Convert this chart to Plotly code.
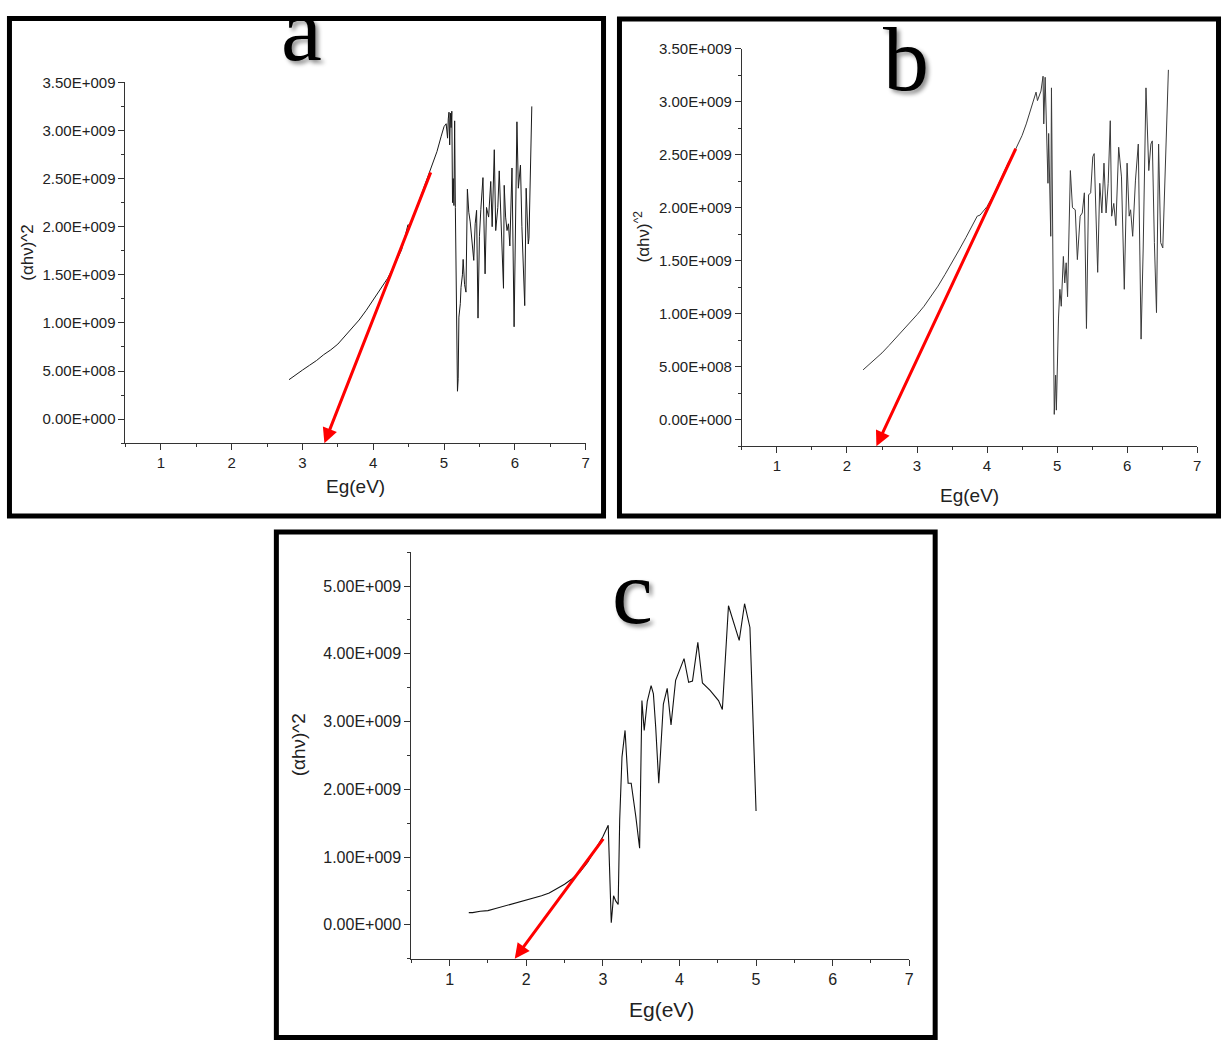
import plotly.graph_objects as go

W, H = 1227, 1040

# ---------------- data (y in units of 1e9) ----------------
# Panel a
a_x = [2.81, 2.90, 3.00, 3.10, 3.20, 3.30, 3.40, 3.50, 3.60, 3.70, 3.80, 3.90, 4.00, 4.10,
       4.20, 4.30, 4.40, 4.46, 4.49, 4.52, 4.60, 4.70, 4.80, 4.90, 4.96, 5.00, 5.03, 5.05,
       5.06, 5.07, 5.08, 5.09, 5.10, 5.11, 5.12, 5.13, 5.14, 5.15, 5.16, 5.17, 5.18, 5.19,
       5.20, 5.21, 5.23, 5.24, 5.26, 5.27, 5.29, 5.31, 5.33, 5.35, 5.37, 5.39, 5.42, 5.44,
       5.46, 5.48, 5.50, 5.52, 5.55, 5.58, 5.60, 5.63, 5.66, 5.68, 5.71, 5.73, 5.76, 5.78,
       5.81, 5.84, 5.85, 5.87, 5.89, 5.91, 5.93, 5.96, 5.99, 6.01, 6.03, 6.05, 6.08, 6.10,
       6.12, 6.14, 6.16, 6.19, 6.20, 6.22, 6.24]
a_y = [0.41, 0.46, 0.51, 0.56, 0.61, 0.67, 0.72, 0.78, 0.86, 0.94, 1.03, 1.13, 1.24, 1.35,
       1.46, 1.60, 1.76, 1.93, 2.02, 2.01, 2.17, 2.37, 2.58, 2.78, 2.94, 3.04, 3.07, 2.92,
       3.12, 3.19, 2.85, 3.18, 3.03, 3.20, 2.25, 2.50, 2.22, 3.10, 2.20, 1.60, 0.68, 0.29,
       0.42, 1.06, 1.20, 1.37, 1.50, 1.66, 1.40, 1.32, 2.39, 2.15, 2.05, 1.89, 1.65, 2.03,
       2.17, 1.05, 1.90, 2.18, 2.51, 1.51, 2.20, 2.10, 2.47, 2.00, 2.80, 1.96, 2.20, 2.58,
       2.05, 1.36, 2.43, 2.10, 1.96, 2.03, 1.80, 2.61, 0.96, 2.20, 3.09, 2.40, 2.64, 2.00,
       1.65, 1.18, 2.40, 1.82, 1.88, 2.60, 3.25]

# Panel b
b_x = [2.23, 2.30, 2.40, 2.50, 2.60, 2.70, 2.80, 2.90, 3.00, 3.10, 3.20, 3.30, 3.40, 3.50,
       3.60, 3.70, 3.80, 3.86, 3.90, 4.00, 4.10, 4.20, 4.30, 4.40, 4.50, 4.56, 4.63, 4.70,
       4.72, 4.77, 4.80, 4.81, 4.83, 4.85, 4.87, 4.88, 4.91, 4.92, 4.95, 4.96, 4.98, 4.99,
       5.02, 5.04, 5.06, 5.09, 5.11, 5.13, 5.15, 5.19, 5.22, 5.26, 5.29, 5.33, 5.36, 5.39,
       5.42, 5.45, 5.48, 5.51, 5.53, 5.58, 5.61, 5.64, 5.67, 5.70, 5.73, 5.76, 5.78, 5.81,
       5.84, 5.88, 5.92, 5.96, 6.00, 6.03, 6.05, 6.08, 6.12, 6.16, 6.20, 6.23, 6.27, 6.31,
       6.34, 6.36, 6.39, 6.42, 6.45, 6.48, 6.51, 6.54, 6.59]
b_y = [0.47, 0.51, 0.57, 0.63, 0.70, 0.77, 0.84, 0.91, 0.99, 1.07, 1.16, 1.26, 1.37, 1.48,
       1.60, 1.72, 1.84, 1.92, 1.93, 2.01, 2.13, 2.27, 2.42, 2.54, 2.68, 2.79, 2.95, 3.09,
       3.01, 3.10, 3.24, 2.79, 3.23, 2.64, 2.23, 2.70, 1.73, 3.13, 1.23, 0.05, 0.42, 0.09,
       0.95, 1.23, 1.07, 1.54, 1.29, 1.48, 1.16, 2.35, 2.00, 1.98, 1.51, 1.92, 1.95, 2.14,
       0.86, 2.12, 2.14, 2.48, 2.51, 1.39, 2.23, 1.95, 2.42, 1.95, 2.23, 2.82, 1.92, 2.04,
       1.83, 2.57, 2.29, 1.23, 2.42, 1.92, 1.98, 1.73, 2.26, 2.60, 0.76, 1.61, 3.13, 2.35,
       2.60, 2.63, 1.67, 1.01, 2.60, 1.67, 1.62, 2.23, 3.30]

# Panel c
c_x = [1.25, 1.30, 1.40, 1.50, 1.60, 1.70, 1.80, 1.90, 2.00, 2.10, 2.20, 2.30, 2.40, 2.50,
       2.60, 2.70, 2.80, 2.90, 3.00, 3.07, 3.11, 3.14, 3.17, 3.20, 3.22, 3.25, 3.29, 3.33,
       3.37, 3.43, 3.48, 3.51, 3.54, 3.58, 3.63, 3.66, 3.69, 3.73, 3.79, 3.84, 3.89, 3.95,
       4.06, 4.12, 4.17, 4.24, 4.30, 4.40, 4.51, 4.56, 4.64, 4.78, 4.85, 4.92, 4.95, 4.98,
       5.00]
c_y = [0.18, 0.18, 0.20, 0.21, 0.24, 0.27, 0.30, 0.34, 0.37, 0.40, 0.43, 0.47, 0.53, 0.60,
       0.68, 0.78, 0.92, 1.10, 1.30, 1.47, 0.03, 0.43, 0.35, 0.30, 1.55, 2.48, 2.87, 2.09,
       2.09, 1.60, 1.13, 3.31, 2.87, 3.30, 3.53, 3.41, 2.92, 2.09, 3.26, 3.49, 2.95, 3.61,
       3.93, 3.58, 3.60, 4.17, 3.57, 3.46, 3.31, 3.18, 4.71, 4.20, 4.74, 4.39, 3.40, 2.27,
       1.68]

# Red arrows: (tail x, tail y, head x, head y)
a_arrow = [4.82, 2.58, 3.31, -0.25]
b_arrow = [4.42, 2.57, 2.42, -0.25]
c_arrow = [3.02, 1.29, 1.85, -0.50]

x_tickvals = [1, 2, 3, 4, 5, 6, 7]
x_ticktext = ["1", "2", "3", "4", "5", "6", "7"]
ab_tickvals = [0, 0.5, 1.0, 1.5, 2.0, 2.5, 3.0, 3.5]
ab_ticktext = ["0.00E+000", "5.00E+008", "1.00E+009", "1.50E+009", "2.00E+009",
               "2.50E+009", "3.00E+009", "3.50E+009"]
c_tickvals = [0, 1, 2, 3, 4, 5]
c_ticktext = ["0.00E+000", "1.00E+009", "2.00E+009", "3.00E+009", "4.00E+009", "5.00E+009"]

# ---------------- layout helpers ----------------
def px(v):
    return v / W

def py(v):
    return 1 - v / H

FONT = "Liberation Sans, Arial, sans-serif"
SERIF = "Liberation Serif, Times New Roman, serif"
AX = "#333333"

fig = go.Figure()
fig.add_trace(go.Scatter(x=a_x, y=a_y, mode="lines", line=dict(color="#1a1a1a", width=1),
                         xaxis="x", yaxis="y", showlegend=False))
fig.add_trace(go.Scatter(x=b_x, y=b_y, mode="lines", line=dict(color="#3a3a3a", width=1),
                         xaxis="x2", yaxis="y2", showlegend=False))
fig.add_trace(go.Scatter(x=c_x, y=c_y, mode="lines", line=dict(color="#111111", width=1.1),
                         xaxis="x3", yaxis="y3", showlegend=False))


def xaxis(dom, anchor, fs):
    return dict(domain=dom, anchor=anchor, range=[0.5, 7], showline=True, linecolor=AX,
                linewidth=1, ticks="outside", ticklen=6, tickcolor=AX, tickwidth=1,
                tickvals=x_tickvals, ticktext=x_ticktext, showgrid=False, zeroline=False,
                tickfont=dict(family=FONT, size=fs, color="#222"),
                minor=dict(ticks="outside", ticklen=3, tickcolor=AX,
                           tickvals=[0.5, 1.5, 2.5, 3.5, 4.5, 5.5, 6.5]))


def yaxis(dom, anchor, rng, tv, tt, minor_vals, fs):
    return dict(domain=dom, anchor=anchor, range=rng, showline=True, linecolor=AX,
                linewidth=1, ticks="outside", ticklen=6, tickcolor=AX, tickwidth=1,
                tickvals=tv, ticktext=tt, showgrid=False, zeroline=False,
                tickfont=dict(family=FONT, size=fs, color="#222"),
                minor=dict(ticks="outside", ticklen=3, tickcolor=AX, tickvals=minor_vals))


ab_minor = [-0.25, 0.25, 0.75, 1.25, 1.75, 2.25, 2.75, 3.25]
c_minor = [-0.5, 0.5, 1.5, 2.5, 3.5, 4.5, 5.5]

fig.update_layout(
    width=W, height=H, autosize=False,
    margin=dict(l=0, r=0, t=0, b=0),
    paper_bgcolor="white", plot_bgcolor="white",
    xaxis=xaxis([px(126), px(588)], "y", 15),
    yaxis=yaxis([py(438), py(74)], "x", [-0.25, 3.5], ab_tickvals, ab_ticktext, ab_minor, 15),
    xaxis2=xaxis([px(745), px(1202)], "y2", 15),
    yaxis2=yaxis([py(441), py(40)], "x2", [-0.25, 3.5], ab_tickvals, ab_ticktext, ab_minor, 15),
    xaxis3=xaxis([px(413), px(913)], "y3", 16),
    yaxis3=yaxis([py(958), py(548)], "x3", [-0.5, 5.5], c_tickvals, c_ticktext, c_minor, 16),
)

# frames
for (x0, y0, x1, y1) in [(9.5, 9.7, 606, 511.5), (622, 10, 1223.5, 511.5), (277.5, 527.5, 939, 1037.5)]:
    fig.add_shape(type="rect", xref="paper", yref="paper", x0=px(x0), x1=px(x1),
                  y0=py(y1), y1=py(y0), line=dict(color="black", width=5), layer="above")

ann = []
# panel letters
for (t, cx, cy) in [("a", 303, 20), ("b", 910, 50), ("c", 635, 588)]:
    ann.append(dict(text=t, x=px(cx), y=py(cy), xref="paper", yref="paper", showarrow=False,
                    xanchor="center", yanchor="middle",
                    font=dict(family=SERIF, size=92, color="black",
                              shadow="3px 3px 4px rgba(0,0,0,0.45)")))
# x titles
for (cx, cy, fs) in [(357, 482, 19), (973, 491, 19), (664, 1009, 21)]:
    ann.append(dict(text="Eg(eV)", x=px(cx), y=py(cy), xref="paper", yref="paper",
                    showarrow=False, xanchor="center", yanchor="middle",
                    font=dict(family=FONT, size=fs, color="#222")))
# y titles
for (t, cx, cy, fs) in [("(αhν)^2", 28, 245, 17), ("(αhν)<sup>^2</sup>", 645, 229, 17),
                        ("(αhν)^2", 300, 742, 19)]:
    ann.append(dict(text=t, x=px(cx), y=py(cy), xref="paper", yref="paper", textangle=-90,
                    showarrow=False, xanchor="center", yanchor="middle",
                    font=dict(family=FONT, size=fs, color="#222")))
# red arrows
for (arr, xr, yr) in [(a_arrow, "x", "y"), (b_arrow, "x2", "y2"), (c_arrow, "x3", "y3")]:
    ann.append(dict(text="", x=arr[2], y=arr[3], ax=arr[0], ay=arr[1], xref=xr, yref=yr,
                    axref=xr, ayref=yr, showarrow=True, arrowhead=2, arrowsize=1.0,
                    arrowwidth=3, arrowcolor="#ff0000", standoff=0))
fig.update_layout(annotations=ann)

fig.write_html("out.html", config={"displayModeBar": False},
               post_script="document.body.style.margin='0';document.body.style.overflow='hidden';")
